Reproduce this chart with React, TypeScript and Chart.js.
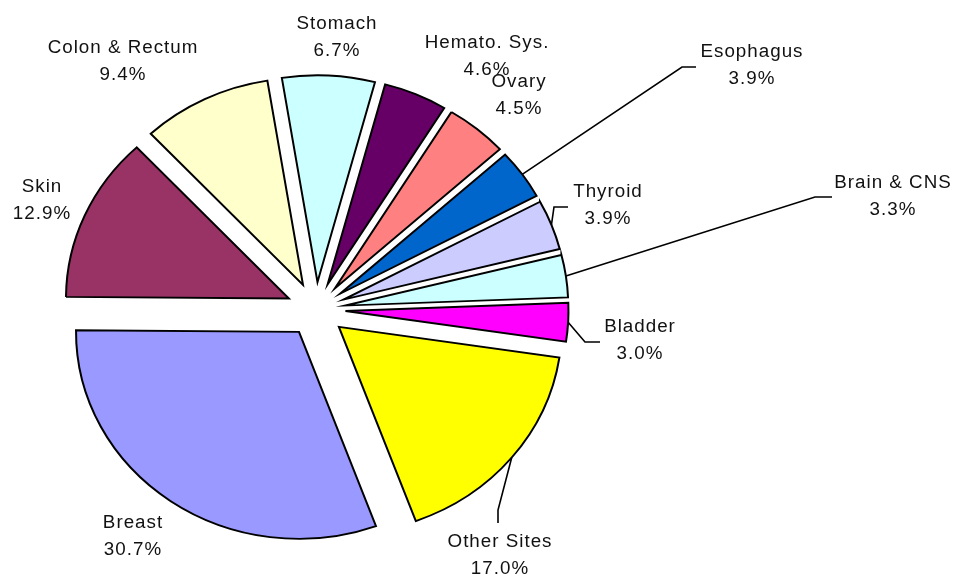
import React, { useEffect, useRef } from "react";
import { Chart, registerables } from "chart.js";

Chart.register(...registerables);

// ---- data ----
const sites = [
  "Stomach",
  "Hemato. Sys.",
  "Ovary",
  "Esophagus",
  "Thyroid",
  "Brain & CNS",
  "Bladder",
  "Other Sites",
  "Breast",
  "Skin",
  "Colon & Rectum",
];
const sharePercent = [6.7, 4.6, 4.5, 3.9, 3.9, 3.3, 3.0, 17.0, 30.7, 12.9, 9.4];
const sliceColors = [
  "#CCFFFF",
  "#660066",
  "#FF8080",
  "#0066CC",
  "#CCCCFF",
  "#CCFFFF",
  "#FF00FF",
  "#FFFF00",
  "#9999FF",
  "#993366",
  "#FFFFCC",
];

// ---- layout ----
const W = 954;
const H = 579;
const CX = 316;
const CY = 309.5;
const RADIUS = 223;
const Y_SQUASH = 0.928;
const EXPLODE = 29.5;
const ROTATION = -9.2;
const FONT_PX = 18.8;
const LINE_GAP = 27;

// label placement: centre x, first-line baseline, optional leader elbow points
const labelPlacement: { x: number; y: number; leader?: number[][] }[] = [
  { x: 337, y: 29 },
  { x: 487, y: 48 },
  { x: 519, y: 87 },
  { x: 752, y: 57, leader: [[682, 67], [696, 67]] },
  { x: 608, y: 197, leader: [[554, 207], [568, 207]] },
  { x: 893, y: 188, leader: [[815, 197], [832, 197]] },
  { x: 640, y: 332, leader: [[585, 342], [600, 342]] },
  { x: 500, y: 547, leader: [[498, 510], [498, 523]] },
  { x: 133, y: 528 },
  { x: 42, y: 192 },
  { x: 123, y: 53 },
];

const explodePlugin = {
  id: "explodeSquash",
  afterUpdate(chart: any) {
    const { left, right, top, bottom } = chart.chartArea;
    const cx = (left + right) / 2;
    const cy = (top + bottom) / 2;
    const meta = chart.getDatasetMeta(0);
    meta.data.forEach((arc: any) => {
      const mid = (arc.startAngle + arc.endAngle) / 2;
      arc.x = cx + Math.cos(mid) * EXPLODE;
      arc.y = cy + Math.sin(mid) * EXPLODE;
    });
  },
  beforeDatasetsDraw(chart: any) {
    const { left, right, top, bottom } = chart.chartArea;
    const cx = (left + right) / 2;
    const cy = (top + bottom) / 2;
    const ctx = chart.ctx;
    ctx.save();
    ctx.translate(cx, cy);
    ctx.scale(1, Y_SQUASH);
    ctx.translate(-cx, -cy);
  },
  afterDatasetsDraw(chart: any) {
    chart.ctx.restore();
  },
  afterDraw(chart: any) {
    const { left, right, top, bottom } = chart.chartArea;
    const cx = (left + right) / 2;
    const cy = (top + bottom) / 2;
    const ctx = chart.ctx;
    const meta = chart.getDatasetMeta(0);
    ctx.save();
    ctx.font = `${FONT_PX}px "Liberation Sans", Arial, sans-serif`;
    try {
      (ctx as any).letterSpacing = "1px";
    } catch (e) {}
    ctx.fillStyle = "#111";
    ctx.textAlign = "center";
    ctx.textBaseline = "alphabetic";
    meta.data.forEach((arc: any, i: number) => {
      const p = labelPlacement[i];
      if (p.leader) {
        const mid = (arc.startAngle + arc.endAngle) / 2;
        const r = RADIUS + EXPLODE;
        const sx = cx + Math.cos(mid) * r;
        const sy = cy + Math.sin(mid) * r * Y_SQUASH;
        ctx.beginPath();
        ctx.moveTo(sx, sy);
        p.leader.forEach(([x, y]) => ctx.lineTo(x, y));
        ctx.lineWidth = 1.6;
        ctx.strokeStyle = "#000";
        ctx.stroke();
      }
      ctx.fillText(sites[i], p.x, p.y);
      ctx.fillText(sharePercent[i].toFixed(1) + "%", p.x, p.y + LINE_GAP);
    });
    ctx.restore();
  },
};

export default function App() {
  const ref = useRef<HTMLCanvasElement | null>(null);
  useEffect(() => {
    if (!ref.current) return;
    const chart = new Chart(ref.current, {
      type: "pie",
      data: {
        labels: sites,
        datasets: [
          {
            data: sharePercent,
            backgroundColor: sliceColors,
            borderColor: "#000",
            borderWidth: 2,
            borderJoinStyle: "miter",
            radius: RADIUS,
            rotation: ROTATION,
            clip: false,
          } as any,
        ],
      },
      options: {
        responsive: false,
        animation: false,
        events: [],
        rotation: ROTATION,
        layout: {
          padding: { left: 0, right: W - 2 * CX, top: 2 * CY - H, bottom: 0 },
        },
        plugins: {
          legend: { display: false },
          tooltip: { enabled: false },
        },
      } as any,
      plugins: [explodePlugin],
    });
    return () => chart.destroy();
  }, []);
  return (
    <div
      style={{
        position: "fixed",
        left: 0,
        top: 0,
        width: W,
        height: H,
        background: "#fff",
      }}
    >
      <canvas ref={ref} width={W} height={H} style={{ display: "block" }} />
    </div>
  );
}
